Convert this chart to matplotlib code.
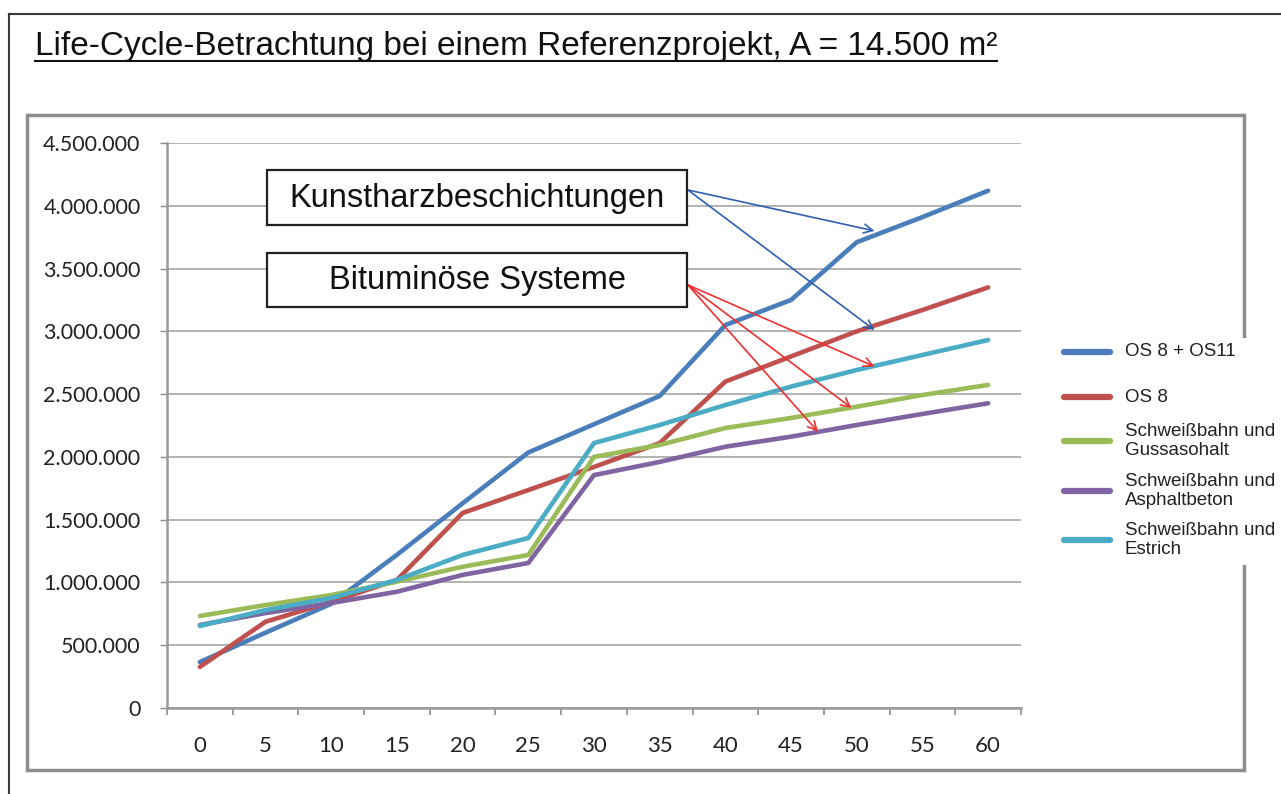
import matplotlib
matplotlib.use("Agg")
import matplotlib.pyplot as plt
from matplotlib.patches import Rectangle
from matplotlib.lines import Line2D
from matplotlib.ticker import FuncFormatter
import numpy as np

# data
jahre = [0, 5, 10, 15, 20, 25, 30, 35, 40, 45, 50, 55, 60]
os8_os11 = [366000, 600000, 830000, 1220000, 1630000, 2035000, 2260000, 2485000, 3050000, 3250000, 3710000, 3910000, 4120000]
os8 = [327000, 687000, 845000, 1020000, 1553000, 1736000, 1920000, 2110000, 2600000, 2800000, 3000000, 3170000, 3350000]
gussasphalt = [733000, 820000, 900000, 1006000, 1125000, 1219000, 2000000, 2095000, 2230000, 2310000, 2400000, 2493000, 2573000]
asphaltbeton = [661000, 756000, 836000, 926000, 1060000, 1155000, 1855000, 1960000, 2081000, 2161000, 2254000, 2342000, 2427000]
estrich = [653000, 780000, 876000, 1020000, 1219000, 1354000, 2110000, 2254000, 2413000, 2560000, 2692000, 2812000, 2931000]

namen = ["OS 8 + OS11", "OS 8", "Schweißbahn und\nGussasohalt",
         "Schweißbahn und\nAsphaltbeton", "Schweißbahn und\nEstrich"]
farben = ["#4A7EBB", "#C0504D", "#9BBB59", "#8064A2", "#4BACC6"]

plt.rcParams['font.family'] = ['Liberation Sans', 'DejaVu Sans']

W, H = 1281, 794
fig = plt.figure(figsize=(W / 100, H / 100), dpi=100)


def fx(x):
    return x / W


def fy(y):
    return 1 - y / H


# outer frame (top + left) and inner chart frame
fig.add_artist(Line2D([fx(9), fx(9)], [fy(14), 0], color="#3a3a3a", lw=1.5))
fig.add_artist(Line2D([fx(9), 1], [fy(14), fy(14)], color="#3a3a3a", lw=1.5))
fig.add_artist(Rectangle((fx(27), fy(770)), fx(1244) - fx(27), fy(115) - fy(770),
                         fill=False, ec="#8c8c8c", lw=2.5, zorder=0.5))

# title with underline
titel = fig.text(fx(35), fy(47), "Life-Cycle-Betrachtung bei einem Referenzprojekt, A = 14.500 m²",
                 fontsize=24, va="center", ha="left", color="#111111")

ax = fig.add_axes([fx(167), fy(708), fx(1021) - fx(167), fy(143) - fy(708)])
x = np.arange(len(jahre))
serien = [os8_os11, os8, gussasphalt, asphaltbeton, estrich]
for werte, farbe, name in zip(serien, farben, namen):
    ax.plot(x, werte, color=farbe, lw=3.3, label=name, solid_capstyle="round", zorder=3)

ax.set_xlim(-0.5, len(jahre) - 0.5)
ax.set_ylim(0, 4500000)
ax.set_yticks(np.arange(0, 4500001, 500000))
ax.yaxis.set_major_formatter(FuncFormatter(lambda v, p: f"{int(v):,}".replace(",", ".")))
ax.set_xticks(x)
ax.set_xticklabels(jahre)
ax.set_xticks(np.arange(-0.5, len(jahre)), minor=True)
ax.tick_params(axis="x", which="major", length=0, pad=20, labelsize=16, labelcolor="#222222")
ax.tick_params(axis="x", which="minor", length=5, width=1.2, color="#8c8c8c", direction="out")
ax.tick_params(axis="y", length=5, width=1, color="#8c8c8c", pad=14, labelsize=15.5, labelcolor="#222222")
for lab in ax.get_xticklabels() + ax.get_yticklabels():
    lab.set_family(["Lato", "DejaVu Sans"])
ax.grid(axis="y", color="#a6a6a6", lw=1.2)
ax.set_axisbelow(True)
for s in ["top", "right"]:
    ax.spines[s].set_visible(False)
for s in ["left", "bottom"]:
    ax.spines[s].set_color("#9a9a9a")
    ax.spines[s].set_linewidth(1.8)

# annotation boxes
for (y0, y1, text) in [(170, 225, "Kunstharzbeschichtungen"), (253, 307, "Bituminöse Systeme")]:
    fig.add_artist(Rectangle((fx(267), fy(y1)), fx(687) - fx(267), fy(y0) - fy(y1),
                             fc="white", ec="#222222", lw=1.6, zorder=2))
    fig.text(fx(477), fy((y0 + y1) / 2 + 1), text, fontsize=23.5, ha="center", va="center",
             color="#111111", zorder=3)

# arrows
blau_ziele = [(10.27, 3800000), (10.27, 3010000)]
rot_ziele = [(10.27, 2720000), (9.92, 2390000), (9.41, 2200000)]
for ziel in blau_ziele:
    ax.annotate("", xy=ziel, xytext=(fx(688), fy(190)), textcoords="figure fraction",
                annotation_clip=False,
                arrowprops=dict(arrowstyle="->", color="#3060B0", lw=1.2, shrinkA=0, shrinkB=0,
                                mutation_scale=16), zorder=5)
for ziel in rot_ziele:
    ax.annotate("", xy=ziel, xytext=(fx(688), fy(285)), textcoords="figure fraction",
                annotation_clip=False,
                arrowprops=dict(arrowstyle="->", color="#F03030", lw=1.2, shrinkA=0, shrinkB=0,
                                mutation_scale=16), zorder=5)

# legend, placed entry by entry like the Excel one
fig.add_artist(Rectangle((fx(1050), fy(565)), fx(1278) - fx(1050), fy(338) - fy(565),
                         fc="white", ec="none", zorder=1))
legend_y = [352, 397, 441, 491, 540]
for name, farbe, ly in zip(namen, farben, legend_y):
    fig.add_artist(Line2D([fx(1064), fx(1110)], [fy(ly), fy(ly)], color=farbe, lw=4.5,
                          solid_capstyle="round", zorder=2))
    fig.text(fx(1125), fy(ly), name, fontsize=13.5, ha="left", va="center",
             linespacing=1.12, color="#222222", zorder=2)

# underline for the title
fig.canvas.draw()
bb = titel.get_window_extent(fig.canvas.get_renderer())
fig.add_artist(Line2D([bb.x0 / W, bb.x1 / W], [(bb.y0 + 2) / H, (bb.y0 + 2) / H],
                      color="#111111", lw=1.5))

fig.savefig("out.png", dpi=100)
